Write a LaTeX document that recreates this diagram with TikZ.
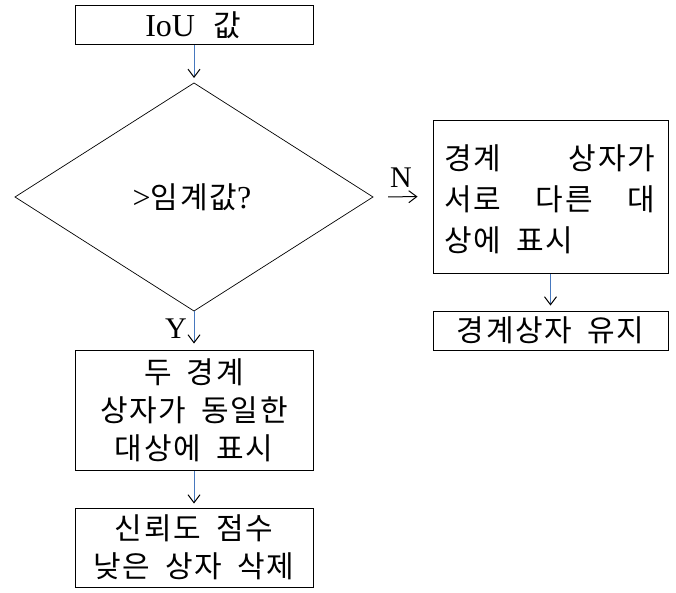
\documentclass[tikz,border=0pt]{standalone}
\usepackage{fontspec}
\setmainfont{Liberation Serif}
\newfontfamily\kr[LetterSpace=6]{Noto Sans CJK KR}
\usetikzlibrary{arrows.meta}
\definecolor{lineblue}{RGB}{70,120,190}
\newcommand{\lat}[1]{{\rmfamily\fontsize{32}{34}\selectfont #1}}
\newcommand{\krfont}{\fontsize{30}{38}\selectfont\kr\spaceskip 15pt plus 40pt\relax}
\tikzset{
  box/.style={draw, line width=0.9pt, inner sep=0pt},
  flow/.style={draw=lineblue, line width=1pt, -{Straight Barb[length=8pt,width=12pt,color=black,line width=1pt]}},
  side/.style={draw=black, line width=1pt, -{Straight Barb[length=8pt,width=12pt,line width=1pt]}},
  txt/.style={font=\krfont, align=center, inner sep=0pt},
  lbl/.style={font=\fontsize{30}{32}\selectfont, inner sep=0pt}
}
\begin{document}
\begin{tikzpicture}[x=1pt,y=-1pt]
\useasboundingbox (0,0) rectangle (676,593);
% boxes
\node[box, minimum width=238pt, minimum height=39pt] (iou) at (194,24.5) {};
\node[txt] at (193,25) {\lat{IoU}\hspace*{18pt}값};
\coordinate (dtop) at (194,83);
\coordinate (dbot) at (194,311);
\coordinate (dleft) at (15,197);
\coordinate (dright) at (373,197);
\draw[line width=0.7pt] (dtop) -- (dright) -- (dbot) -- (dleft) -- cycle;
\node[txt] (dq) at (192,197) {\lat{>}임계값\lat{?}};
\node[box, minimum width=235pt, minimum height=153pt] (diff) at (550.5,196.5) {};
\node[txt, anchor=west, align=left] at (444,199) {\parbox{211pt}{\baselineskip=41pt 경계\hfill 상자가\\ 서로\hfill 다른\hfill 대\\ 상에 표시}};
\node[box, minimum width=235pt, minimum height=39pt] (keep) at (550.5,330.5) {};
\node[txt] at (keep.center) {경계상자 유지};
\node[box, minimum width=238pt, minimum height=120pt] (same) at (194,410) {};
\node[txt] at (same.center) {\baselineskip=38pt 두 경계\\ 상자가 동일한\\ 대상에 표시};
\node[box, minimum width=238pt, minimum height=79pt] (del) at (194,547.5) {};
\node[txt] at (del.center) {\baselineskip=40pt 신뢰도 점수\\ 낮은 상자 삭제};
% connectors
\draw[flow, shorten <=1pt, shorten >=5pt] (iou.south) -- (dtop);
\draw[flow, shorten >=6pt] (dbot) -- (same.north);
\draw[flow, shorten <=1pt, shorten >=5pt] (diff.south) -- (keep.north);
\draw[flow, shorten <=1pt, shorten >=4pt] (same.south) -- (del.north);
\draw[side, shorten <=15pt, shorten >=15pt] (dright) -- (diff.west);
\node[lbl] (n) at (401,178) {N};
\node[lbl] (y) at (176,329) {Y};
\end{tikzpicture}
\end{document}
